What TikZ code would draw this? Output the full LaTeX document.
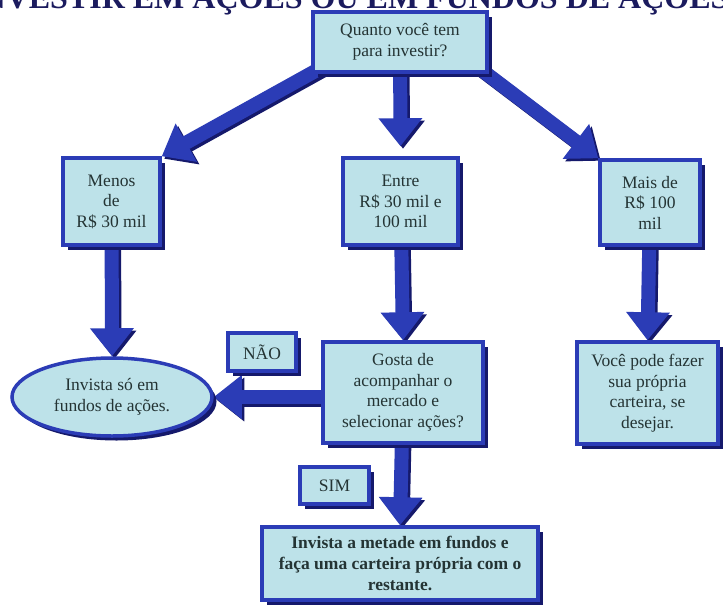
\documentclass[tikz,border=0pt]{standalone}
\usepackage{fontspec}
\setmainfont{Liberation Serif}
\usetikzlibrary{arrows.meta,shapes.geometric,shadows}
\definecolor{boxfill}{HTML}{BDE2E9}
\definecolor{boxline}{HTML}{2B3CB6}
\definecolor{deepnavy}{HTML}{15196B}
\definecolor{inktext}{HTML}{243434}
\definecolor{titleink}{HTML}{1B1B5E}
\pgfdeclarelayer{paper}
\pgfdeclarelayer{arrowlayer}
\pgfsetlayers{paper,arrowlayer,main}
\tikzset{
  flowbox/.style={draw=boxline, line width=3.5pt, fill=boxfill, text=inktext,
    align=center, font=\fontsize{17.5}{20.5}\selectfont, inner sep=2pt,
    drop shadow={shadow xshift=4.5pt, shadow yshift=-4.5pt, fill=deepnavy, opacity=1}},
  rectbox/.style={flowbox, rectangle},
  roundbox/.style={flowbox, ellipse},
  fatarrow/.style={line width=14pt, draw=boxline, -{Triangle[width=42pt,length=28pt]}},
  fatshadow/.style={fatarrow, draw=deepnavy, transform canvas={shift={(2.5pt,-2.5pt)}}},
}
\newcommand{\fatlink}[2]{%
  \draw[fatshadow] #1 -- #2;
  \draw[fatarrow] #1 -- #2;}
\begin{document}
\begin{tikzpicture}[x=1pt,y=-1pt]
\useasboundingbox (0,0) rectangle (723,606);
\begin{pgfonlayer}{paper}
  \fill[white] (0,0) rectangle (723,606);
\end{pgfonlayer}

% heading, cut by the top edge
\begin{scope}
  \clip (0,0) rectangle (723,606);
  \node[anchor=base west, font=\fontsize{32}{32}\selectfont\bfseries, text=titleink, inner sep=0pt]
    (title) at (-30,8) {INVESTIR EM AÇÕES OU EM FUNDOS DE AÇÕES};
\end{scope}

% boxes
\node[rectbox, minimum width=174pt, minimum height=60pt] (q) at (400,42) {Quanto você tem\\para investir?};
\node[rectbox, minimum width=97pt, minimum height=87pt] (m) at (111.5,201.5) {Menos\\de\\R\$ 30 mil};
\node[rectbox, minimum width=115pt, minimum height=87pt] (e) at (400.5,201.5) {Entre\\R\$ 30 mil e\\100 mil};
\node[rectbox, minimum width=100pt, minimum height=85pt] (mais) at (650,202.5) {Mais de\\R\$ 100\\mil};
\node[roundbox, minimum width=200pt, minimum height=78pt, inner sep=0pt] (ell) at (112,397) {Invista só em\\fundos de ações.};
\node[rectbox, minimum width=68pt, minimum height=38pt] (nao) at (262,352) {NÃO};
\node[rectbox, minimum width=160pt, minimum height=101pt] (g) at (403,392.5) {Gosta de\\acompanhar o\\mercado e\\selecionar ações?};
\node[rectbox, minimum width=69pt, minimum height=37pt] (sim) at (334.5,485.5) {SIM};
\node[rectbox, minimum width=276pt, minimum height=73pt, font=\fontsize{17.5}{21}\selectfont\bfseries] (b) at (400,563.5)
  {Invista a metade em fundos e\\faça uma carteira própria com o\\restante.};
\node[rectbox, minimum width=141pt, minimum height=102pt] (v) at (647.5,393) {Você pode fazer\\sua própria\\carteira, se\\desejar.};

% connectors
\begin{pgfonlayer}{arrowlayer}
  \fatlink{([xshift=10pt,yshift=6pt]q.south west)}{(m.north east)}
  \fatlink{(q.center)}{([yshift=10pt]e.north)}
  \fatlink{([xshift=-10pt,yshift=6pt]q.south east)}{(mais.north west)}
  \fatlink{(m.center)}{(ell.north)}
  \fatlink{(e.center)}{(g.north)}
  \fatlink{(mais.center)}{(v.north)}
  \fatlink{(g.center |- ell.east)}{(ell.east)}
  \fatlink{(g.center)}{(b.north)}
\end{pgfonlayer}
\end{tikzpicture}
\end{document}
